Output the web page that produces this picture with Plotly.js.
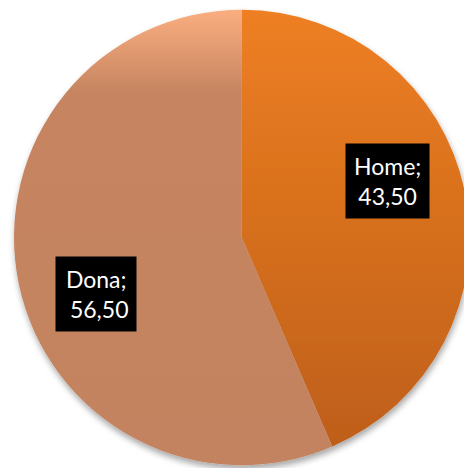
<!DOCTYPE html>
<html>
<head>
<meta charset="utf-8">
<script src="https://cdn.plot.ly/plotly-3.0.1.min.js"></script>
<style>
html,body{margin:0;padding:0;overflow:hidden;background:#fff;}
#chart{width:472px;height:468px;}
</style>
</head>
<body>
<div id="chart"></div>
<script>
var categories = ["Home", "Dona"];
var values = [43.5, 56.5];
var valueLabels = ["43,50", " 56,50"];
var colors = ["#DB7320", "#C58460"];

var W = 472, H = 468;
var dom = {x: [14 / W, 469.5 / W], y: [(H - 465.5) / H, (H - 9.5) / H]};

var trace = {
  type: "pie",
  labels: categories,
  values: values,
  sort: false,
  direction: "clockwise",
  rotation: 0,
  textinfo: "none",
  hoverinfo: "none",
  marker: {colors: colors, line: {width: 0}},
  domain: dom,
  showlegend: false
};

// label annotations placed from the data (angles computed from the values)
var total = values.reduce(function(a, b){return a + b;}, 0);
var cxPx = (dom.x[0] + dom.x[1]) / 2 * W;
var cyPx = (1 - (dom.y[0] + dom.y[1]) / 2) * H;
var rPx = Math.min((dom.x[1] - dom.x[0]) * W, (dom.y[1] - dom.y[0]) * H) / 2;
var annotations = [];
var cum = 0;
for (var i = 0; i < values.length; i++) {
  var mid = (cum + values[i] / 2) / total * 360 - 9.5;
  cum += values[i];
  var a = mid * Math.PI / 180;
  var px = cxPx + Math.sin(a) * rPx * 0.687;
  var py = cyPx - Math.cos(a) * rPx * 0.687;
  annotations.push({
    xref: "paper", yref: "paper",
    x: px / W, y: 1 - py / H,
    xanchor: "center", yanchor: "middle",
    text: categories[i] + ";<br>" + valueLabels[i].replace(/^ /, "\u00a0"),
    showarrow: false,
    align: "center",
    bgcolor: "#000000",
    borderpad: 8,
    font: {family: "Lato, 'Open Sans', sans-serif", size: 23, color: "#ffffff"}
  });
}

var layout = {
  width: W, height: H,
  margin: {l: 0, r: 0, t: 0, b: 0},
  paper_bgcolor: "#ffffff",
  plot_bgcolor: "#ffffff",
  annotations: annotations
};

Plotly.newPlot("chart", [trace], layout, {staticPlot: true, displayModeBar: false}).then(function(gd){
  var svg = gd.querySelector("svg.main-svg");
  var ns = "http://www.w3.org/2000/svg";
  var defs = document.createElementNS(ns, "defs");
  defs.innerHTML =
    '<linearGradient id="gHome" x1="0" y1="0" x2="0" y2="1">' +
      '<stop offset="0" stop-color="#EE7F22"/>' +
      '<stop offset="1" stop-color="#BE5F19"/>' +
    '</linearGradient>' +
    '<linearGradient id="gDona" x1="0" y1="0" x2="0" y2="1">' +
      '<stop offset="0" stop-color="#FBAE80"/>' +
      '<stop offset="0.18" stop-color="#C68560"/>' +
      '<stop offset="1" stop-color="#C48360"/>' +
    '</linearGradient>' +
    '<filter id="shadow" x="-10%" y="-10%" width="130%" height="130%">' +
      '<feDropShadow dx="1" dy="4" stdDeviation="3" flood-color="#000" flood-opacity="0.35"/>' +
    '</filter>';
  svg.insertBefore(defs, svg.firstChild);
  var slices = gd.querySelectorAll("g.slice path.surface");
  var ids = ["gHome", "gDona"];
  slices.forEach(function(p, k){ p.style.fill = "url(#" + ids[k] + ")"; });
  var trace0 = gd.querySelector("g.trace");
  if (trace0) trace0.setAttribute("filter", "url(#shadow)");
});
</script>
</body>
</html>
